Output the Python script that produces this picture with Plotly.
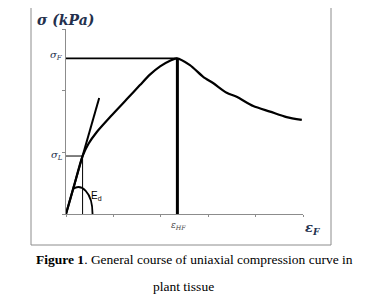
import plotly.graph_objects as go

# ---- data ----
strain = [0.0, 0.34, 0.69, 0.95, 1.30, 1.89, 2.56, 3.12, 3.54, 3.97, 4.39, 4.68,
          5.23, 5.79, 6.22, 6.78, 7.20, 7.90, 8.61, 9.31, 9.95]
stress = [0.0, 0.92, 1.86, 2.28, 2.66, 3.17, 3.72, 4.18, 4.52, 4.79, 4.97, 5.05,
          4.83, 4.45, 4.24, 3.93, 3.80, 3.50, 3.32, 3.14, 3.05]
sigma_F = 5.05
eps_HF = 4.70
sigma_L = 1.88
eps_L = 0.70
tangent_x = [0.0, 1.40]
x_ticks = [0, 2, 4, 6, 8, 10]
y_ticks = [0, 2, 4, 6]

# ---- layout geometry (page pixels; the page body has an 8px margin) ----
OFF = 8
W, H = 365 - OFF, 297 - OFF
L, R, T, B = 66, 303, 29, 214  # plot area in page pixels


def px(x):
    return (x - L) / (R - L)


def py(y):
    return (B - y) / (B - T)


slope = sigma_L / eps_L
tangent_y = [slope * v for v in tangent_x]

fig = go.Figure()
fig.add_trace(go.Scatter(x=strain, y=stress, mode="lines",
                         line=dict(color="black", width=2.2, shape="spline", smoothing=0.7),
                         hoverinfo="skip", showlegend=False))
fig.add_trace(go.Scatter(x=tangent_x, y=tangent_y, mode="lines",
                         line=dict(color="black", width=2), hoverinfo="skip", showlegend=False))

shapes = [
    dict(type="rect", xref="paper", yref="paper", x0=px(31), x1=px(331), y0=py(245), y1=py(3),
         line=dict(color="#8c8c8c", width=1)),
    dict(type="line", x0=0, x1=eps_HF, y0=sigma_F, y1=sigma_F, line=dict(color="black", width=1.8)),
    dict(type="line", x0=eps_HF, x1=eps_HF, y0=0, y1=sigma_F, line=dict(color="black", width=3)),
    dict(type="line", x0=0, x1=eps_L, y0=sigma_L, y1=sigma_L, line=dict(color="black", width=1)),
    dict(type="line", x0=eps_L, x1=eps_L, y0=0, y1=sigma_L, line=dict(color="black", width=1)),
    dict(type="path", path="M 0.31,0.82 C 0.62,0.98 1.12,0.75 1.12,0",
         line=dict(color="black", width=1.8)),
]

ink = "#23304d"
annotations = [
    dict(text="<b><i>σ (kPa)</i></b>", xref="paper", yref="paper", x=px(35), y=py(20),
         xanchor="left", yanchor="middle", showarrow=False,
         font=dict(family="DejaVu Serif", size=14, color=ink)),
    dict(text="<i>σ<sub>F</sub></i>", xref="paper", yref="paper", x=px(56), y=py(56),
         xanchor="center", yanchor="middle", showarrow=False,
         font=dict(family="DejaVu Serif", size=10, color=ink)),
    dict(text="<i>σ<sub>L</sub></i>", xref="paper", yref="paper", x=px(57), y=py(155),
         xanchor="center", yanchor="middle", showarrow=False,
         font=dict(family="DejaVu Serif", size=10, color=ink)),
    dict(text="E<sub>d</sub>", xref="paper", yref="paper", x=px(96), y=py(196),
         xanchor="center", yanchor="middle", showarrow=False,
         font=dict(family="Liberation Sans", size=10, color="black")),
    dict(text="<i>ε<sub>HF</sub></i>", xref="paper", yref="paper", x=px(178), y=py(225),
         xanchor="center", yanchor="middle", showarrow=False,
         font=dict(family="DejaVu Serif", size=9, color="#444")),
    dict(text="<b><i>ε<sub>F</sub></i></b>", xref="paper", yref="paper", x=px(312), y=py(228),
         xanchor="center", yanchor="middle", showarrow=False,
         font=dict(family="DejaVu Serif", size=13, color=ink)),
    dict(text="<b>Figure 1</b>. General course of uniaxial compression curve in",
         xref="paper", yref="paper", x=px(194), y=py(259),
         xanchor="center", yanchor="middle", showarrow=False,
         font=dict(family="Liberation Serif", size=13.5, color="black")),
    dict(text="plant tissue",
         xref="paper", yref="paper", x=px(183), y=py(286),
         xanchor="center", yanchor="middle", showarrow=False,
         font=dict(family="Liberation Serif", size=13.5, color="black")),
]

fig.update_layout(
    width=W, height=H,
    margin=dict(l=L - OFF, r=W + OFF - R, t=T - OFF, b=H + OFF - B, pad=0),
    paper_bgcolor="white", plot_bgcolor="white",
    shapes=shapes, annotations=annotations,
    showlegend=False,
    xaxis=dict(range=[0, 10], tickvals=x_ticks, showticklabels=False, ticks="outside",
               ticklen=2, tickcolor="#8c8c8c", showgrid=False, zeroline=False,
               showline=True, linecolor="#8c8c8c", linewidth=1, fixedrange=True),
    yaxis=dict(range=[0, 6], tickvals=y_ticks, showticklabels=False, ticks="outside",
               ticklen=3, tickcolor="#8c8c8c", showgrid=False, zeroline=False,
               showline=True, linecolor="#8c8c8c", linewidth=1, fixedrange=True),
)

fig.write_html("out.html", config={"displayModeBar": False})
